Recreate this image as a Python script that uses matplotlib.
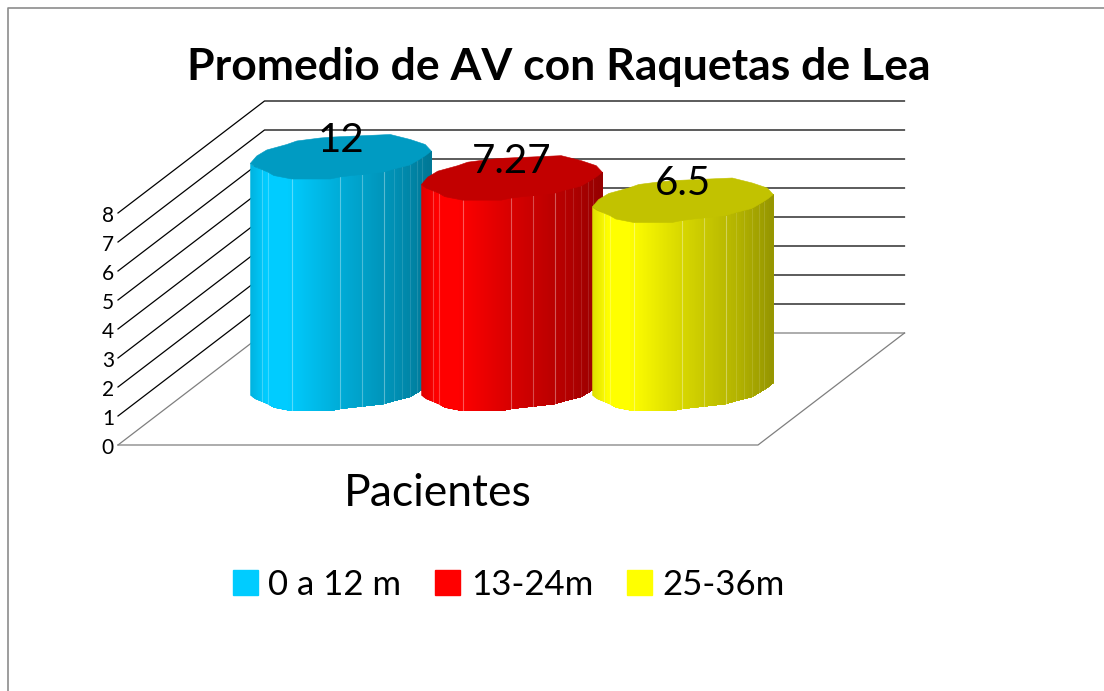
import numpy as np
import matplotlib
matplotlib.use('Agg')
from matplotlib import pyplot as plt
from matplotlib.patches import Patch

# datos
series = ['0 a 12 m', '13-24m', '25-36m']
valores = [12, 7.27, 6.5]
etiquetas = ['12', '7.27', '6.5']
colores = ['#00CCFF', '#FF0000', '#FFFF00']
ticks = [0, 1, 2, 3, 4, 5, 6, 7, 8]
titulo = 'Promedio de AV con Raquetas de Lea'
eje_x = 'Pacientes'

# esquema de la proyeccion oblicua (en pixeles de la imagen)
x0, x1 = 118, 758
y0 = 445
px_por_unidad = 29
dx, dy = 146.5, 112
y_max = ticks[-1]

# contorno irregular del cilindro de Excel, relativo al centro
frente = [(-90.5, 6.5), (-85.5, 10), (-79, 12.5), (-73, 15), (-67, 18.5), (-49, 22),
          (-10.5, 22), (-1, 20), (11, 18.5), (21, 17.5), (43, 15), (53, 12),
          (61, 10), (69, 8), (76, 4), (81, 1), (85.5, -2), (90.5, -6)]
atras = [(84.5, -12.5), (69.5, -17.5), (49.5, -22.5), (-7, -20), (-20.5, -19),
         (-44, -16), (-54, -12.5), (-74, -7), (-84, -1)]
luces = [(-79, .25), (-73, .25), (-49, .35), (-1, .35), (21, .3), (43, .35),
         (53, .12), (61, .12), (69, .12), (76, .12), (81, .12)]


def proj(x, prof, v):
    # x en pixeles del frente, prof 0 a 1, v valor del eje
    return x + prof * dx, y0 - prof * dy - v * px_por_unidad


def sombra(frac):
    return np.interp(frac, [0, .08, .2, .5, .8, 1], [.88, 1, 1, .84, .7, .58])


def oscurecer(color, f):
    return tuple(c * f for c in matplotlib.colors.to_rgb(color))


def cilindro(ax, cx, valor, color, z):
    v = min(valor, y_max)
    xc, yb = proj(cx, .5, 0)
    _, yt = proj(cx, .5, v)
    fx = np.array([p[0] for p in frente])
    fy = np.array([p[1] for p in frente])
    # lateral: tiras solapadas de izquierda a derecha para que no se vean costuras
    xs = np.linspace(fx[0], fx[-1], 91)
    for i in range(len(xs) - 1):
        c = oscurecer(color, sombra((xs[i] - fx[0]) / (fx[-1] - fx[0])))
        xr = np.append(np.arange(xs[i], fx[-1], 1.0), fx[-1])
        yr = np.interp(xr, fx, fy)
        ax.fill(np.r_[xc + xr, xc + xr[::-1]], np.r_[yb + yr, yt + yr[::-1]],
                color=c, lw=0, zorder=z)
    for off, a in luces:
        off_y = np.interp(off, fx, fy)
        ax.plot([xc + off, xc + off], [yb + off_y, yt + off_y], color='white', alpha=a,
                lw=.8, zorder=z + .1)
    # tapa
    tapa = frente + atras
    ax.fill([xc + p[0] for p in tapa], [yt + p[1] for p in tapa],
            color=oscurecer(color, .76), lw=.4, zorder=z + .2)


fig = plt.figure(figsize=(11.04, 6.91), dpi=100)
ax = fig.add_axes([0, 0, 1, 1])
ax.set_xlim(0, 1104)
ax.set_ylim(691, 0)
ax.axis('off')
plt.rcParams['font.family'] = ['Lato', 'DejaVu Sans']

# marco
ax.plot([8, 8, 1104], [691, 8, 8], color='#8c8c8c', lw=1.2)

# rejilla
for t in ticks:
    col = '#7f7f7f' if t == 0 else 'black'
    xa, ya = proj(x0, 0, t)
    xb, yb = proj(x0, 1, t)
    xc, yc = proj(x1, 1, t)
    ax.plot([xa, xb, xc], [ya, yb, yc], color=col, lw=.9, zorder=1)
    ax.text(xa - 4, ya + 3, str(t), ha='right', va='center', fontsize=15, color='black')
xa, ya = proj(x0, 0, 0)
xb, yb = proj(x1, 0, 0)
xc, yc = proj(x1, 1, 0)
ax.plot([xa, xb, xc], [ya, yb, yc], color='#7f7f7f', lw=.9, zorder=1)

# cilindros y etiquetas
centros = [267.5, 438.5, 609.5]
for i in range(len(series)):
    cilindro(ax, centros[i], valores[i], colores[i], 2 + i)
    xt, yt = proj(centros[i], .5, min(valores[i], y_max))
    ax.text(xt, yt - 17, etiquetas[i], ha='center', va='center', fontsize=29, color='black', zorder=10)

ax.text(558.5, 67, titulo, ha='center', va='center', fontsize=32, fontweight='bold', color='black')
ax.text(437.5, 493, eje_x, ha='center', va='center', fontsize=32, color='black')

handles = [Patch(color=colores[i], label=series[i]) for i in range(len(series))]
leg = ax.legend(handles=handles, ncols=3, loc='center', bbox_to_anchor=(509, 585),
                bbox_transform=ax.transData, frameon=False, fontsize=25,
                handlelength=.72, handleheight=.72, handletextpad=.3, columnspacing=.98,
                borderpad=0, borderaxespad=0)

plt.savefig('out.png', dpi=100)
